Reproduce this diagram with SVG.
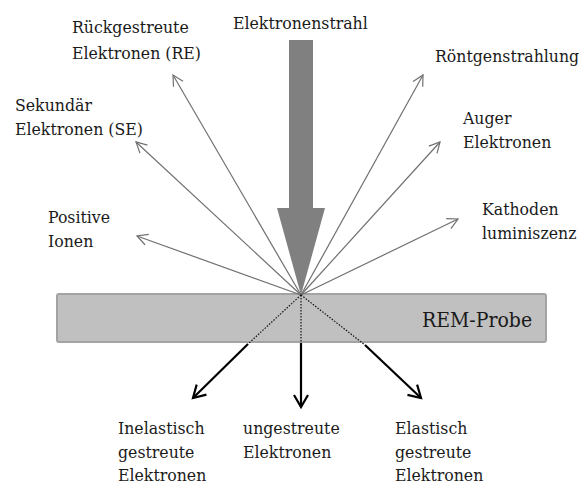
<svg xmlns="http://www.w3.org/2000/svg" width="581" height="486" viewBox="0 0 581 486">
<style>
  .thin { stroke: #707070; stroke-width: 1.2; fill: none; marker-end: url(#thinHead); }
  .dot { stroke: #111; stroke-width: 1.2; stroke-dasharray: 1.5 1.5; fill: none; }
  .thick { stroke: #000; stroke-width: 2.2; fill: none; marker-end: url(#thickHead); }
</style>
<defs>
  <marker id="thinHead" markerUnits="userSpaceOnUse" markerWidth="14" markerHeight="14" refX="11" refY="6" orient="auto" overflow="visible">
    <path d="M0.5,0.5 L11,6 L0.5,11.5" fill="none" stroke="#707070" stroke-width="1.2"/>
  </marker>
  <marker id="thickHead" markerUnits="userSpaceOnUse" markerWidth="16" markerHeight="16" refX="12" refY="7" orient="auto" overflow="visible">
    <path d="M0,0 L12,7 L0,14" fill="none" stroke="#000" stroke-width="2.2"/>
  </marker>
</defs>
<rect width="581" height="486" fill="#ffffff"/>
<g font-family="'DejaVu Serif Condensed', 'DejaVu Serif', serif" font-size="17.5" fill="#1a1a1a">
<g id="sample">
  <rect x="57" y="294" width="489" height="48" rx="2" fill="#c0c0c0" stroke="#a3a3a3" stroke-width="2"/>
  <text x="422" y="327" font-size="21">REM-Probe</text>
</g>

<g id="beam">
  <path d="M289,40 L313,40 L313,208 L325,208 L301,295 L277,208 L289,208 Z" fill="#808080"/>
  <text x="233" y="29">Elektronenstrahl</text>
</g>

<g id="connectors">
  <line class="thin" x1="301" y1="295" x2="173" y2="75"/>
  <line class="thin" x1="301" y1="295" x2="136" y2="142"/>
  <line class="thin" x1="301" y1="295" x2="137" y2="236"/>
  <line class="thin" x1="301" y1="295" x2="423" y2="75"/>
  <line class="thin" x1="301" y1="295" x2="440" y2="142"/>
  <line class="thin" x1="301" y1="295" x2="458" y2="219"/>
  <line class="dot" x1="301" y1="295" x2="248" y2="344"/>
  <line class="dot" x1="301" y1="295" x2="301" y2="343"/>
  <line class="dot" x1="301" y1="295" x2="365" y2="345"/>
  <line class="thick" x1="248" y1="344" x2="193" y2="398"/>
  <line class="thick" x1="301" y1="343" x2="301" y2="407"/>
  <line class="thick" x1="365" y1="345" x2="421" y2="398"/>
</g>

<g id="re">
  <text x="72" y="32.5">Rückgestreute</text>
  <text x="72" y="59">Elektronen (RE)</text>
</g>
<g id="se">
  <text x="15" y="111">Sekundär</text>
  <text x="15" y="134.5">Elektronen (SE)</text>
</g>
<g id="ionen">
  <text x="48" y="223">Positive</text>
  <text x="48" y="246.5">Ionen</text>
</g>
<g id="roentgen">
  <text x="435" y="62">Röntgenstrahlung</text>
</g>
<g id="auger">
  <text x="463" y="124">Auger</text>
  <text x="463" y="148">Elektronen</text>
</g>
<g id="kathoden">
  <text x="482" y="215">Kathoden</text>
  <text x="482" y="239">luminiszenz</text>
</g>
<g id="inelastisch">
  <text x="118" y="434">Inelastisch</text>
  <text x="118" y="457.5">gestreute</text>
  <text x="118" y="481">Elektronen</text>
</g>
<g id="ungestreut">
  <text x="243" y="434">ungestreute</text>
  <text x="243" y="457.5">Elektronen</text>
</g>
<g id="elastisch">
  <text x="395" y="434">Elastisch</text>
  <text x="395" y="457.5">gestreute</text>
  <text x="395" y="481">Elektronen</text>
</g>
</g>
</svg>
